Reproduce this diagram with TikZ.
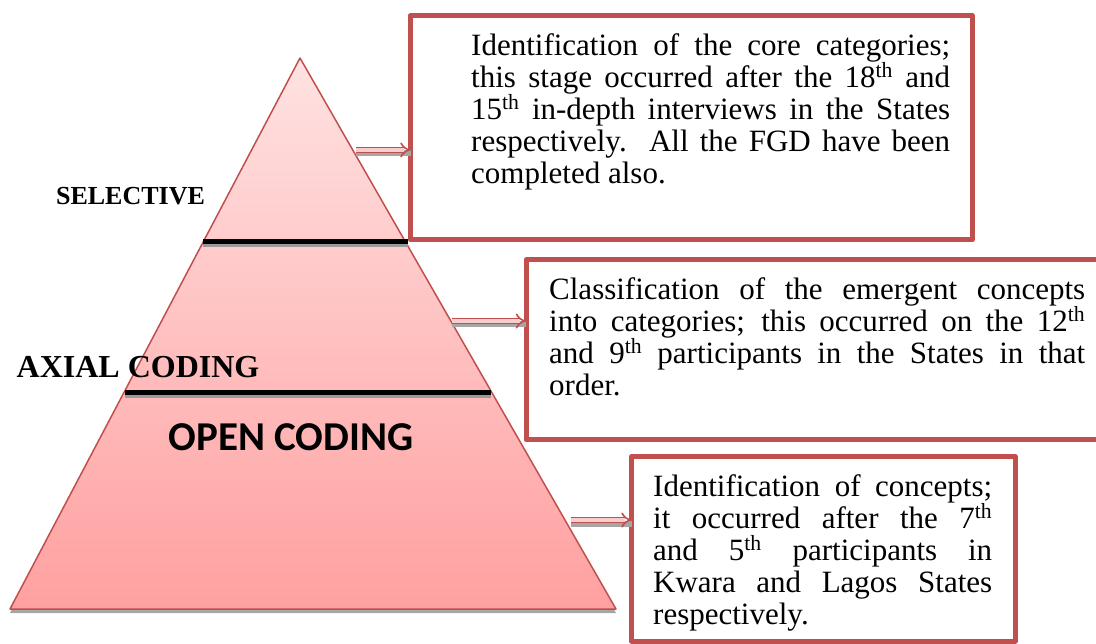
\documentclass[tikz,border=0pt]{standalone}
\usepackage{fontspec}
\setmainfont{Liberation Serif}
\newfontfamily\calibri{Carlito}
\usetikzlibrary{arrows.meta}
\tolerance=10000
\hyphenpenalty=10000
\definecolor{edgered}{RGB}{192,80,77}
\definecolor{toppink}{RGB}{255,226,226}
\definecolor{botpink}{RGB}{255,160,160}
\definecolor{arrowpink}{RGB}{250,205,205}
\tikzset{
  box/.style={draw=edgered, line width=5pt, fill=white, inner sep=0pt, outer sep=0pt, anchor=north west},
  boxtext/.style={inner sep=0pt, anchor=north west, align=justify, font=\fontsize{31}{32}\selectfont},
  cut/.style={line width=5pt, line cap=butt},
  cutshade/.style={line width=4pt, draw=black!40, line cap=butt},
  link/.style={draw=edgered, line width=1.6pt, double=arrowpink, double distance=3.5pt, -{Implies}},
  linkshade/.style={draw=black!35, line width=6pt, line cap=butt},
  stage/.style={inner sep=0pt}
}
\begin{document}
\begin{tikzpicture}[x=1pt, y=-1pt, line join=round]
			\useasboundingbox (0,0) rectangle (1096,644);
			\clip (0,0) rectangle (1096,644);
			\coordinate (apex) at (300,58);
			\coordinate (bl) at (10,609);
			\coordinate (br) at (616,609);
			\fill[black!35] ([yshift=-4pt]apex) -- ([yshift=-4pt]bl) -- ([yshift=-4pt]br) -- cycle;
			\shadedraw[top color=toppink, bottom color=botpink, draw=edgered, line width=1.5pt] (apex) -- (bl) -- (br) -- cycle;
			\coordinate (l1) at (203,242);\coordinate (r1) at (408,242);
			\coordinate (l2) at (125,393);\coordinate (r2) at (491,393);
			\draw[cutshade] ([yshift=-3.5pt]l1) -- ([yshift=-3.5pt]r1);
			\draw[cut] (l1) -- (r1);
			\draw[cutshade] ([yshift=-3.5pt]l2) -- ([yshift=-3.5pt]r2);
			\draw[cut] (l2) -- (r2);
			\node[stage, font=\fontsize{26}{28}\selectfont\bfseries] (sel) at (130.5,196) {SELECTIVE};
			\node[stage, font=\fontsize{32}{34}\selectfont\bfseries] (axial) at (138,367) {AXIAL CODING};
			\node[stage, font=\fontsize{41}{44}\selectfont\calibri\bfseries] (open) at (291,437) {OPEN CODING};
			\node[box, minimum width=561.5pt, minimum height=224.5pt] (b1) at (410.5,15.5) {};
			\node[box, minimum width=600pt, minimum height=180pt] (b2) at (526,260) {};
			\node[box, minimum width=383.5pt, minimum height=184.5pt] (b3) at (631.5,456.5) {};
			\coordinate (a1) at (356,150);
			\coordinate (a2) at (452,321);
			\coordinate (a3) at (571,520);
			\foreach \a/\b in {a1/b1,a2/b2,a3/b3}{
				\draw[linkshade] ([yshift=-3.5pt]\a) -- ([yshift=-3.5pt]\a -| \b.west);
				\draw[link] (\a) -- (\a -| \b.west);
			}
			\node[boxtext, text width=479pt] (t1) at (471,33) {Identification of the core categories;\linebreak this stage occurred after the 18\textsuperscript{th} and\linebreak 15\textsuperscript{th} in-depth interviews in the States\linebreak respectively.\ \ All the FGD have been\linebreak completed also.};
			\node[boxtext, text width=536pt] (t2) at (549,277) {Classification of the emergent concepts\linebreak into categories; this occurred on the 12\textsuperscript{th}\linebreak and 9\textsuperscript{th} participants in the States in that\linebreak order.};
			\node[boxtext, text width=339pt] (t3) at (653,474) {Identification of concepts;\linebreak it occurred after the 7\textsuperscript{th}\linebreak and 5\textsuperscript{th} participants in\linebreak Kwara and Lagos States\linebreak respectively.};
	\end{tikzpicture}
\end{document}
